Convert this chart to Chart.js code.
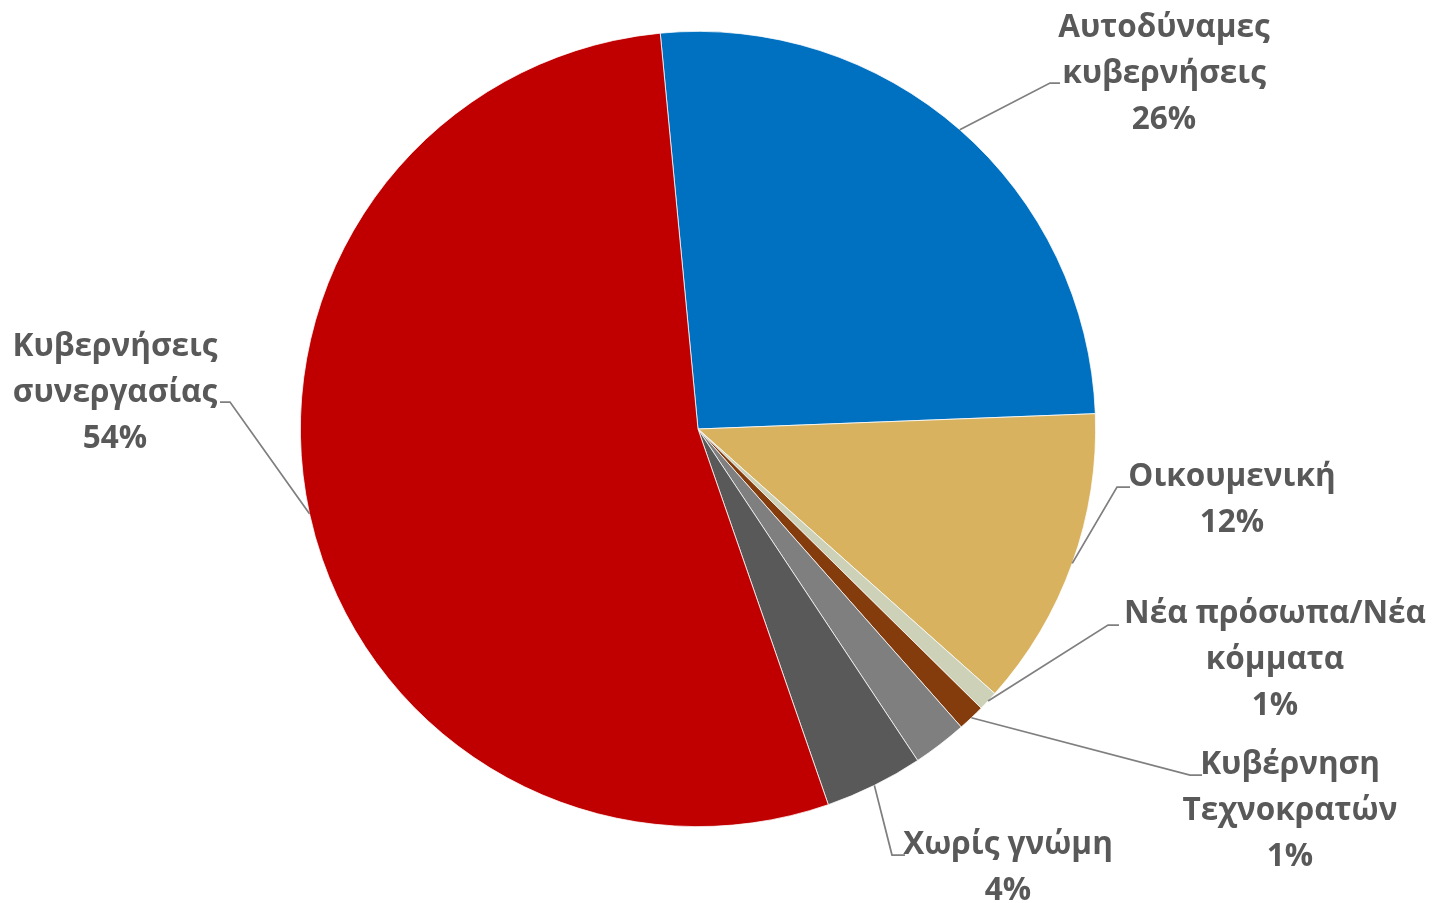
<!DOCTYPE html>
<html>
<head>
<meta charset="utf-8">
<script src="https://cdn.jsdelivr.net/npm/chart.js@4"></script>
<style>
  html, body { margin: 0; padding: 0; background: #ffffff; }
  #wrap { width: 1433px; height: 903px; position: relative; }
</style>
</head>
<body>
<div id="wrap"><canvas id="c" width="1433" height="903"></canvas></div>
<script>
// ---- data ----
const categories = [
  ['Αυτοδύναμες', 'κυβερνήσεις'],
  ['Οικουμενική'],
  ['Νέα πρόσωπα/Νέα', 'κόμματα'],
  ['Κυβέρνηση', 'Τεχνοκρατών'],
  [''],
  ['Χωρίς γνώμη'],
  ['Κυβερνήσεις', 'συνεργασίας']
];
const values = [25.9, 12.2, 0.8, 1.1, 2.2, 4.0, 53.8];
const showLabel = [true, true, true, true, false, true, true];
const colors = ['#0070C0', '#D9B25F', '#CCD1B8', '#843C0C', '#7F7F7F', '#595959', '#C00000'];

// ---- label layout (offsets from pie centre, px) ----
const labelLayout = [
  { tx: 466, ty: -401, elbow: [352, -346], end: [362, -346] },
  { tx: 534, ty: 48,   elbow: [419, 58],   end: [432, 58] },
  { tx: 577, ty: 185,  elbow: [410, 196],  end: [421, 196] },
  { tx: 592, ty: 336,  elbow: [492, 346],  end: [504, 346] },
  null,
  { tx: 310, ty: 416,  elbow: [194, 426],  end: [207, 426] },
  { tx: -583, ty: -82, elbow: [-468, -27], end: [-478, -27] }
];
const lineHeight = 46;
const fontSpec = 'bold 31.5px "Open Sans", "DejaVu Sans", sans-serif';

const labelPlugin = {
  id: 'pieLabels',
  afterDatasetsDraw(chart) {
    const ctx = chart.ctx;
    const meta = chart.getDatasetMeta(0);
    const total = values.reduce((a, b) => a + b, 0);
    ctx.save();
    meta.data.forEach((arc, i) => {
      const L = labelLayout[i];
      if (!showLabel[i] || !L) return;
      const p = arc.getProps(['x', 'y', 'startAngle', 'endAngle', 'outerRadius'], true);
      const mid = (p.startAngle + p.endAngle) / 2;
      const sx = p.x + Math.cos(mid) * p.outerRadius;
      const sy = p.y + Math.sin(mid) * p.outerRadius;
      ctx.strokeStyle = '#7F7F7F';
      ctx.lineWidth = 1.75;
      ctx.beginPath();
      ctx.moveTo(sx, sy);
      ctx.lineTo(p.x + L.elbow[0], p.y + L.elbow[1]);
      ctx.lineTo(p.x + L.end[0], p.y + L.end[1]);
      ctx.stroke();
      const lines = categories[i].concat([Math.round(values[i] / total * 100) + '%']);
      ctx.fillStyle = '#595959';
      ctx.font = fontSpec;
      ctx.textAlign = 'center';
      ctx.textBaseline = 'middle';
      lines.forEach((t, k) => {
        ctx.fillText(t, p.x + L.tx, p.y + L.ty + k * lineHeight);
      });
    });
    ctx.restore();
  }
};

new Chart(document.getElementById('c'), {
  type: 'pie',
  data: {
    labels: categories,
    datasets: [{
      data: values,
      backgroundColor: colors,
      borderColor: '#ffffff',
      borderWidth: 0.75
    }]
  },
  options: {
    responsive: false,
    animation: false,
    rotation: -5.45,
    layout: { padding: { left: 300, right: 337, top: 31, bottom: 76 } },
    plugins: {
      legend: { display: false },
      tooltip: { enabled: false }
    }
  },
  plugins: [labelPlugin]
});
</script>
</body>
</html>
